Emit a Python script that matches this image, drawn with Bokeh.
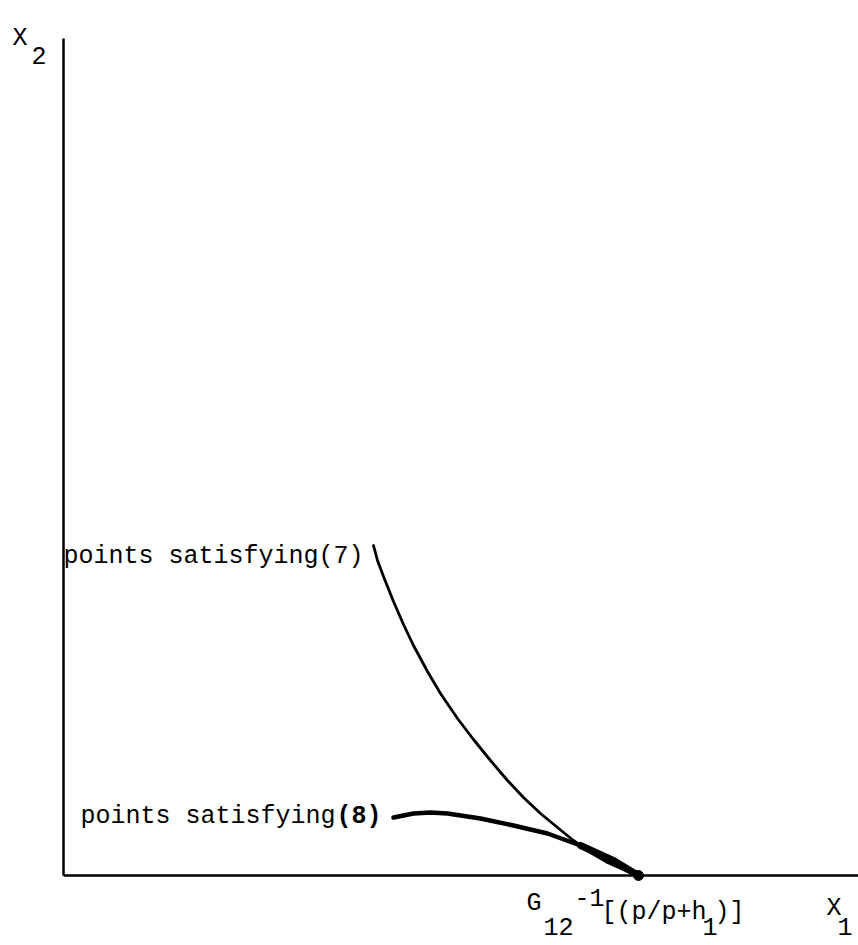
from bokeh.plotting import figure
from bokeh.models import Range1d
from bokeh.embed import file_html
from bokeh.resources import INLINE
from bokeh.core.properties import value

# curve of points satisfying (7): X1, X2
c7_x = [310, 314, 320, 330, 340, 350, 364, 377, 394, 410, 427, 444, 460, 477, 494, 510, 527, 544, 564, 575]
c7_y = [330, 315, 299, 274, 251, 230, 204, 182, 157, 136, 115, 95, 78, 62, 48, 35, 23, 13, 4, 0]
# curve of points satisfying (8)
c8_x = [330, 350, 367, 384, 417, 450, 484, 517, 550, 575]
c8_y = [58, 62, 63, 62, 57, 50, 42, 30, 15, 0]
# intercept point G12^-1[(p/p+h1)]
pt_x = [575]
pt_y = [0]
# axis extents
x_axis_x = [0, 795]
x_axis_y = [0, 0]
y_axis_x = [0, 0]
y_axis_y = [0, 837]

W, H = 858, 945
OX, OY = 63, 875  # origin in picture pixels
p = figure(width=W, height=H, output_backend="svg", toolbar_location=None,
           x_range=Range1d(-OX, W - OX), y_range=Range1d(OY - H, OY),
           min_border=0)
p.axis.visible = False
p.grid.visible = False
p.outline_line_color = None
p.background_fill_color = "white"

p.line(x_axis_x, x_axis_y, line_color="black", line_width=2.5)
p.line(y_axis_x, y_axis_y, line_color="black", line_width=2.5)
p.line(c7_x, c7_y, line_color="black", line_width=2.8, line_cap="round",
       line_join="round")
p.line(c8_x, c8_y, line_color="black", line_width=4.5, line_cap="round",
       line_join="round")
p.line(c8_x[-3:], c8_y[-3:], line_color="black", line_width=7,
       line_cap="round", line_join="round")
p.scatter(pt_x, pt_y, size=10, color="black")

FONT = value("Liberation Mono")
FS = "25px"

def T(px, py, s, bold=False):
    # px, py are picture positions; converted to data units relative to origin
    p.text(x=[px - OX], y=[OY - py], text=[s], text_font=FONT,
           text_font_size=FS, text_baseline="alphabetic", text_align="left",
           text_color="black", text_font_style="bold" if bold else "normal")

T(12, 38, "X")
T(31, 55, "2")
T(63, 556, "points satisfying(7)")
T(80, 816, "points satisfying")
T(336, 816, "(8)", bold=True)
T(526, 903, "G")
T(543, 926, "12")
T(574, 897, "-1")
T(601, 912, "[(p/p+h")
T(702, 926, "1")
T(714, 912, ")]")
T(826, 908, "X")
T(837, 926, "1")

open("out.html", "w").write(file_html(p, INLINE))
